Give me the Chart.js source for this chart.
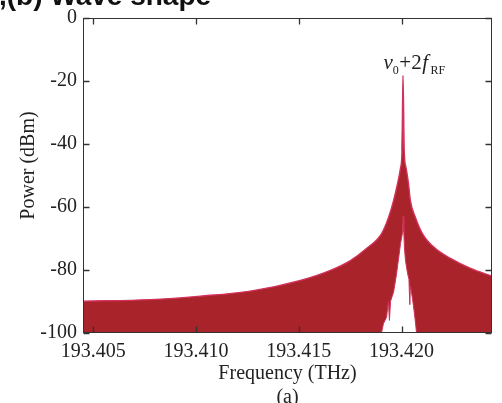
<!DOCTYPE html>
<html>
<head>
<meta charset="utf-8">
<script src="https://cdn.jsdelivr.net/npm/chart.js@4/dist/chart.umd.min.js"></script>
<style>
  html, body { margin: 0; padding: 0; background: #fff; }
  #wrap { width: 502px; height: 403px; position: relative; }
</style>
</head>
<body>
<div id="wrap"><canvas id="c" width="502" height="403"></canvas></div>
<script>
// Spectrum envelope around the v0+2fRF sideband (frequency in THz, power in dBm)
const upperFreq = [193.40451, 193.40778, 193.41021, 193.41264, 193.41508, 193.41654, 193.41751,
  193.41829, 193.41902, 193.41936, 193.41961, 193.41980, 193.41995, 193.42002, 193.42007,
  193.42013, 193.42022, 193.42034, 193.42043, 193.42068, 193.42102, 193.42165, 193.42238,
  193.42336, 193.42443];
const upperPower = [-89.9, -89.4, -88.3, -86.7, -83.3, -80.1, -77.0,
  -73.2, -68.5, -63.4, -58.0, -52.7, -47.6, -42.3, -18.2,
  -42.3, -47.6, -52.7, -58.0, -63.4, -68.5, -73.2, -76.3,
  -79.5, -82.0];

// Lower edge of the oscillating comb near the carrier (the gap under the peak)
const lowerFreq = [193.41902, 193.41912, 193.41927, 193.41936, 193.41941, 193.41946, 193.41961,
  193.41975, 193.41985, 193.41995, 193.42005, 193.42008, 193.42011, 193.42014, 193.42019,
  193.42029, 193.42036, 193.42040, 193.42043, 193.42053, 193.42063, 193.42073];
const lowerPower = [-100, -97, -95, -90, -96, -90, -87,
  -81.5, -76.5, -71.6, -68, -63, -68, -73, -77,
  -81, -83, -91, -85, -89, -94, -100];

const xTicks = [193.405, 193.410, 193.415, 193.420];
const yTicks = [0, -20, -40, -60, -80, -100];
const peakFreq = 193.42007;
const peakPower = -18.2;

const FILL_RED = '#a9232b';
const EDGE_PINK = '#d2315a';
const INK = '#222';
const SERIF = '"Liberation Serif", "Times New Roman", serif';

const toPts = (xs, ys) => xs.map((x, i) => ({ x: x, y: ys[i] }));

// Box frame with inward tick marks on all four sides
const framePlugin = {
  id: 'frame',
  afterDatasetsDraw(chart) {
    const { ctx, chartArea: a, scales: { x, y } } = chart;
    const L = Math.round(a.left) + 0.5, R = Math.round(a.right) - 0.5;
    const T = Math.round(a.top) + 0.5, B = Math.round(a.bottom) - 0.5;
    ctx.save();
    ctx.strokeStyle = '#333';
    ctx.lineWidth = 1;
    ctx.strokeRect(L, T, R - L, B - T);
    ctx.lineWidth = 1.3;
    const tl = 6;
    ctx.beginPath();
    xTicks.forEach(v => {
      const px = Math.round(x.getPixelForValue(v)) + 0.5;
      ctx.moveTo(px, B); ctx.lineTo(px, B - tl);
      ctx.moveTo(px, T); ctx.lineTo(px, T + tl);
    });
    yTicks.forEach(v => {
      const py = Math.round(y.getPixelForValue(v)) + 0.5;
      ctx.moveTo(L, py); ctx.lineTo(L + tl, py);
      ctx.moveTo(R, py); ctx.lineTo(R - tl, py);
    });
    ctx.stroke();
    ctx.restore();
  }
};

// Peak label and panel heading
const textPlugin = {
  id: 'texts',
  afterDraw(chart) {
    const { ctx, scales: { x, y } } = chart;
    ctx.save();
    ctx.fillStyle = INK;
    ctx.textBaseline = 'alphabetic';
    ctx.textAlign = 'left';
    const px = x.getPixelForValue(peakFreq);
    const py = y.getPixelForValue(peakPower);
    let cx = px - 19.5;
    const base = py - 6;
    const part = (txt, font, dy, extra) => {
      ctx.font = font;
      ctx.fillText(txt, cx, base + dy);
      cx += ctx.measureText(txt).width + (extra || 0);
    };
    part('v', 'italic 21px ' + SERIF, 0, 0);
    part('0', '12px ' + SERIF, 5, 0.5);
    part('+2', '21px ' + SERIF, 0, 0.5);
    part('f', 'italic 21px ' + SERIF, 0, 2.5);
    part('RF', '12px ' + SERIF, 5, 0);

    ctx.font = 'bold 28px "Liberation Sans", Arial, sans-serif';
    ctx.fillStyle = '#111';
    ctx.fillText(',(b) Wave shape', -1, 5);
    ctx.restore();
  }
};

new Chart(document.getElementById('c'), {
  type: 'line',
  data: {
    datasets: [
      {
        label: 'lower',
        data: toPts(lowerFreq, lowerPower),
        borderColor: EDGE_PINK,
        borderWidth: 1,
        backgroundColor: '#ffffff',
        fill: 'start',
        pointRadius: 0,
        tension: 0
      },
      {
        label: 'upper',
        data: toPts(upperFreq, upperPower),
        borderColor: EDGE_PINK,
        borderWidth: 1.4,
        backgroundColor: FILL_RED,
        fill: 'start',
        pointRadius: 0,
        cubicInterpolationMode: 'monotone'
      }
    ]
  },
  options: {
    responsive: false,
    animation: false,
    events: [],
    layout: { padding: { top: 16, right: 10, left: 0, bottom: 0 } },
    plugins: { legend: { display: false }, tooltip: { enabled: false } },
    scales: {
      x: {
        type: 'linear',
        min: 193.4045,
        max: 193.4244,
        grid: { display: false, drawTicks: false },
        border: { display: false },
        afterBuildTicks: s => { s.ticks = xTicks.map(v => ({ value: v })); },
        afterFit: s => { s.height = 70; },
        ticks: {
          color: INK,
          font: { family: SERIF, size: 20 },
          padding: 7,
          maxRotation: 0,
          autoSkip: false,
          callback: v => Number(v).toFixed(3)
        },
        title: {
          display: true,
          text: ['Frequency (THz)', '(a)'],
          color: INK,
          font: { family: SERIF, size: 20, lineHeight: 1.2 },
          padding: { top: 0, bottom: -7 }
        }
      },
      y: {
        type: 'linear',
        min: -100,
        max: 0,
        grid: { display: false, drawTicks: false },
        border: { display: false },
        afterBuildTicks: s => { s.ticks = yTicks.map(v => ({ value: v })); },
        afterFit: s => { s.width = 83; },
        ticks: {
          color: INK,
          font: { family: SERIF, size: 20 },
          padding: 6,
          autoSkip: false,
          callback: v => String(v)
        },
        title: {
          display: true,
          text: '\u00a0\u00a0\u00a0\u00a0Power (dBm)',
          color: INK,
          font: { family: SERIF, size: 20, lineHeight: 1.2 },
          padding: { top: 17, bottom: 0 }
        }
      }
    }
  },
  plugins: [framePlugin, textPlugin]
});
</script>
</body>
</html>
